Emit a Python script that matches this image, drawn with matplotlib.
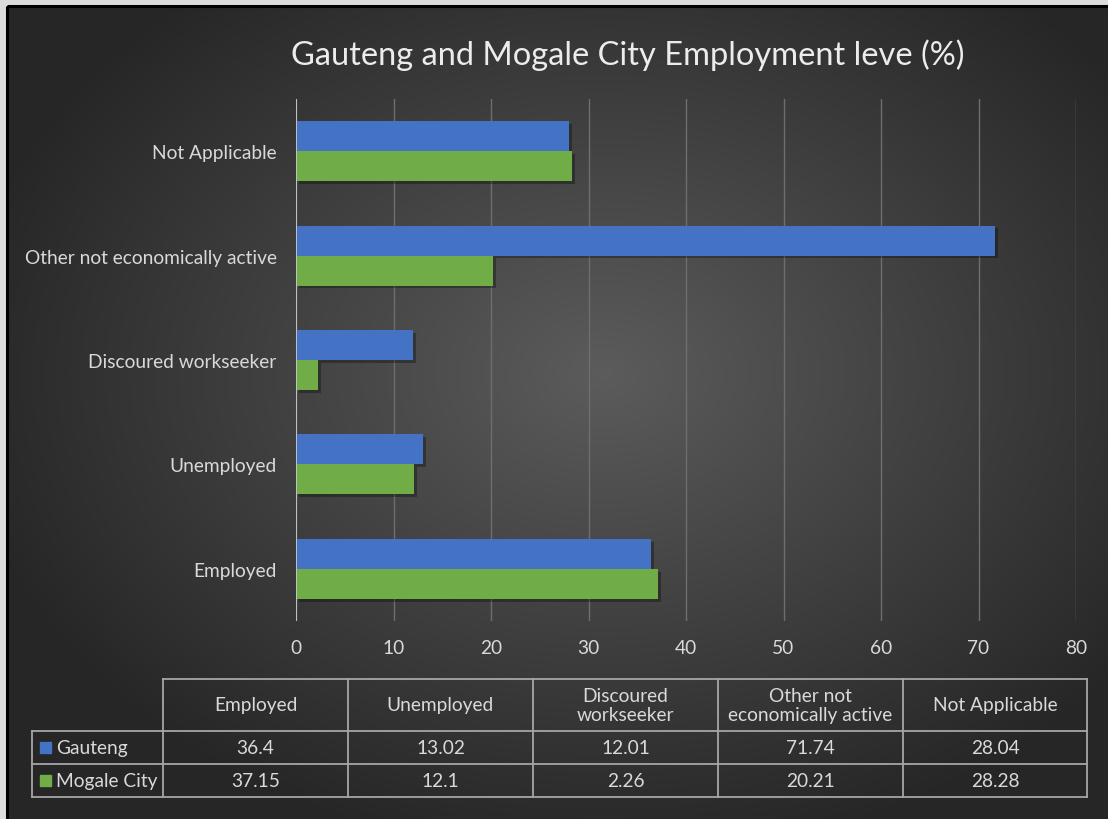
import numpy as np
import matplotlib.pyplot as plt
from matplotlib import patheffects as pe
from matplotlib.patches import Rectangle

plt.rcParams['font.family'] = ['Lato', 'DejaVu Sans']

categories = ['Employed', 'Unemployed', 'Discoured workseeker',
              'Other not economically active', 'Not Applicable']
table_headers = ['Employed', 'Unemployed', 'Discoured\nworkseeker',
                 'Other not\neconomically active', 'Not Applicable']
gauteng = [36.4, 13.02, 12.01, 71.74, 28.04]
mogale = [37.15, 12.1, 2.26, 20.21, 28.28]
series_names = ['Gauteng', 'Mogale City']
x_ticks = [0, 10, 20, 30, 40, 50, 60, 70, 80]

W, H = 1108, 820
BLUE = '#4472C4'
GREEN = '#70AD47'
TXT = '#d9d9d9'
FS = 13.8

fig = plt.figure(figsize=(W / 100, H / 100), dpi=100)
fig.patch.set_facecolor('#dcdcdc')

# radial gradient background
bg = fig.add_axes([0, 0, 1, 1])
bg.set_xlim(0, W)
bg.set_ylim(H, 0)
bg.axis('off')
yy, xx = np.mgrid[0:H, 0:W]
r = np.sqrt(((xx - 600) / 720.0) ** 2 + ((yy - 370) / 540.0) ** 2)
shade = np.clip(0.36 - 0.23 * r, 0.15, 0.36)
img = np.dstack([shade, shade, shade])
bg.imshow(img, extent=(7, W, H, 8), aspect='auto', zorder=0)
bg.add_patch(Rectangle((6.5, 6.5), W, H, fill=False, edgecolor='black', lw=2.2, zorder=1))

# title
bg.text(628, 55, 'Gauteng and Mogale City Employment leve (%)', color='#ececec',
        fontsize=23.5, ha='center', va='center', zorder=3)

# bar chart
ax = fig.add_axes([296 / W, 1 - 622 / H, (1076 - 296) / W, (622 - 100) / H])
ax.set_facecolor('none')
y = np.arange(len(categories))
h = 0.287
shadow = [pe.SimplePatchShadow(offset=(2, -2), shadow_rgbFace='black', alpha=0.3), pe.Normal()]
ax.barh(y + h / 2, gauteng, height=h, color=BLUE, zorder=3, path_effects=shadow)
ax.barh(y - h / 2, mogale, height=h, color=GREEN, zorder=3, path_effects=shadow)
ax.set_xlim(0, 80)
ax.set_ylim(-0.5, len(categories) - 0.5)
ax.set_xticks(x_ticks)
ax.set_yticks(y)
ax.set_yticklabels(categories)
ax.tick_params(axis='both', length=0, colors=TXT, labelsize=FS)
ax.tick_params(axis='x', pad=13)
ax.tick_params(axis='y', pad=14)
for s in ax.spines.values():
    s.set_visible(False)
ax.grid(axis='x', color='#6e6e6e', lw=1, zorder=0)
ax.axvline(0, color='#c8c8c8', lw=1.3, zorder=4)

# data table under the chart
cols = [163, 348, 533, 718, 903, 1087]
rows = [680, 732, 765, 798]
line_kw = dict(color='#a6a6a6', lw=1.3, zorder=3)
bg.plot([cols[0], cols[-1]], [rows[0], rows[0]], **line_kw)
for yv in rows[1:]:
    bg.plot([32, cols[-1]], [yv, yv], **line_kw)
for xv in cols:
    bg.plot([xv, xv], [rows[0], rows[-1]], **line_kw)
bg.plot([32, 32], [rows[1], rows[-1]], **line_kw)

for i, lab in enumerate(table_headers):
    cx = (cols[i] + cols[i + 1]) / 2
    bg.text(cx, (rows[0] + rows[1]) / 2, lab, color=TXT, fontsize=FS, ha='center',
            va='center', linespacing=1.2, zorder=4)
    bg.text(cx, (rows[1] + rows[2]) / 2, f'{gauteng[i]:g}', color=TXT, fontsize=FS,
            ha='center', va='center', zorder=4)
    bg.text(cx, (rows[2] + rows[3]) / 2, f'{mogale[i]:g}', color=TXT, fontsize=FS,
            ha='center', va='center', zorder=4)

for j, (name, col) in enumerate(zip(series_names, [BLUE, GREEN])):
    cy = (rows[j + 1] + rows[j + 2]) / 2
    bg.add_patch(Rectangle((40, cy - 5.5), 11, 11, color=col, zorder=4))
    bg.text(56, cy, name, color=TXT, fontsize=FS, ha='left', va='center', zorder=4)

fig.savefig('out.png', dpi=100, facecolor=fig.get_facecolor())
